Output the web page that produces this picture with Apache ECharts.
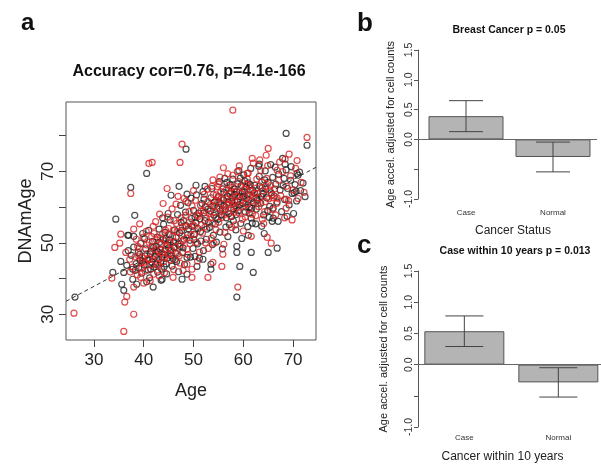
<!DOCTYPE html>
<html>
<head>
<meta charset="utf-8">
<script src="https://cdn.jsdelivr.net/npm/echarts@6/dist/echarts.min.js"></script>
<style>
  html, body { margin: 0; padding: 0; background: #fff; }
  #chart { width: 601px; height: 464px; }
</style>
</head>
<body>
<div id="chart"></div>
<script>
// panel a: DNAm age vs age, two groups of samples
const blackPoints = [
  [26.2,34.8],[34.4,56.6],[38.2,57.7],[37.4,65.5],[40.6,69.4],[36.8,52.1],[35.4,44.8],[33.8,41.7],[36,36.7],[35.6,38.4],
  [37,52.1],[38,51.8],[39.8,52.6],[36.6,43.7],[36,41.7],[37.8,42.6],[38.6,38.4],[37.8,39.8],[41.9,37.6],[43.7,39.8],
  [47.7,39.8],[48.7,41.2],[50.7,43.4],[53.5,42.6],[51.9,45.4],[53.5,44],[50.3,46.2],[48.5,76.2],[50.5,66.1],[47.1,65.8],
  [45.5,63.3],[48.7,63.6],[49.5,62.5],[52.1,62.2],[52.3,65.8],[56.7,66.9],[68.6,80.6],[72.8,77.3],[68.4,72],[63.2,72],
  [70.8,69.4],[68.2,68],[70.6,64.4],[66,59.7],[66,56.9],[66.8,48.5],[65,47.3],[64.2,52.6],[61.6,47.3],[62,41.7],
  [59.3,43.4],[58.7,34.8],[58.7,47.3],[58.7,49],[61,52.1],[65.8,56],[61.8,55.5],
  [38.5,44.2],[39.2,46.8],[39.6,41.5],[40.1,43.9],[40.4,48.3],[40.8,45.1],[41.2,40.2],[41.5,47.6],[41.8,50.4],[42.1,43.2],
  [42.3,46.1],[39.4,49.8],[38.9,47.3],[40.2,51.2],[41.0,53.5],[42.5,49.0],[42.8,41.8],[39.0,43.0],[40.6,39.1],[41.6,44.6],
  [37.5,46.5],[38.0,48.8],[36.9,47.8],
  [43.0,45.3],[43.3,48.2],[43.6,42.6],[43.9,50.9],[44.2,46.7],[44.5,44.1],[44.8,49.4],[45.1,52.3],[45.4,47.8],[45.7,43.5],
  [46.0,50.2],[43.1,53.8],[44.0,55.2],[44.6,41.3],[45.3,56.4],[45.9,45.6],[42.7,51.6],[43.5,39.5],[44.3,52.9],[45.0,48.6],
  [46.2,53.6],[46.4,47.1],[42.9,47.4],[44.9,58.2],[43.8,57.0],
  [46.6,44.8],[46.9,49.6],[47.2,52.8],[47.5,55.7],[47.8,47.3],[48.1,51.0],[48.4,58.6],[48.7,45.9],[49.0,53.9],[49.3,50.7],
  [49.6,56.8],[49.9,48.4],[46.8,57.9],[47.4,60.5],[48.2,43.9],[48.9,61.2],[49.4,46.0],[50.0,59.1],[47.0,41.9],[48.5,54.8],
  [50.2,52.4],[50.5,55.6],[50.8,49.7],[51.1,58.3],[51.4,53.1],[51.7,61.0],[52.0,47.8],[52.3,56.2],[52.6,51.0],[52.9,59.4],
  [53.2,54.3],[53.5,62.6],[53.8,49.5],[54.1,57.7],[50.6,63.4],[51.2,45.7],[51.9,64.3],[52.7,53.8],[53.4,58.9],[54.0,52.1],
  [50.3,57.2],[52.4,60.1],[53.7,65.2],[51.5,50.5],[54.2,61.4],
  [54.4,55.3],[54.7,59.6],[55.0,62.9],[55.3,53.0],[55.6,57.8],[55.9,65.1],[56.2,60.3],[56.5,54.4],[56.8,63.0],[57.1,58.2],
  [57.4,66.2],[57.7,61.6],[58.0,56.1],[54.6,50.2],[55.2,67.1],[55.8,48.3],[56.3,68.0],[56.9,51.7],[57.5,64.4],[58.1,59.4],
  [54.9,56.6],[56.0,62.0],[57.2,55.1],[57.9,67.8],[55.5,60.9],[56.6,57.0],[57.8,62.7],
  [58.3,63.5],[58.6,57.9],[58.9,66.5],[59.2,60.7],[59.5,55.4],[59.8,64.1],[60.1,69.0],[60.4,58.6],[60.7,62.4],[61.0,66.8],
  [61.3,60.0],[61.6,56.9],[61.9,64.7],[58.5,53.6],[59.1,70.2],[59.7,51.2],[60.3,67.3],[60.9,54.5],[61.5,70.8],[62.0,61.3],
  [58.8,61.5],[59.4,68.1],[60.0,63.0],[60.6,65.6],[61.2,58.3],[58.2,65.0],
  [62.3,66.1],[62.6,59.4],[62.9,63.8],[63.2,68.6],[63.5,61.1],[63.8,65.4],[64.1,57.8],[64.4,70.1],[64.7,62.6],[65.0,66.9],
  [65.3,60.2],[65.6,64.0],[65.9,68.3],[62.5,55.3],[63.1,71.4],[63.7,54.6],[64.3,67.6],[64.9,59.0],[65.5,71.9],[62.8,61.9],
  [64.0,63.7],[65.2,57.1],
  [66.2,63.1],[66.5,66.4],[66.8,61.4],[67.1,69.2],[67.4,64.8],[67.7,58.7],[68.0,66.0],[68.3,62.1],[68.6,70.4],[68.9,65.2],
  [69.2,60.6],[69.5,67.5],[69.8,63.8],[70.1,58.2],[70.4,66.3],[70.7,61.7],[71.0,68.9],[71.5,64.6],[72.0,66.7],[66.4,71.2],
  [67.0,56.0],[67.9,73.6],[68.8,57.4],[69.6,71.3],[70.2,64.0],[71.3,69.8],[72.4,62.9],
  [39.8,44.9],[40.9,42.4],[41.3,46.9],[41.9,45.5],[42.4,44.0],[42.6,47.8],[43.2,50.1],[43.7,46.0],[44.1,43.3],[44.4,48.0],
  [44.7,45.7],[45.2,50.8],[45.6,46.4],[46.1,48.7],[46.5,51.5],[47.3,49.0],[47.6,53.4],[48.0,56.2],[48.8,52.2],[49.7,54.6],
  [50.9,54.0],[51.3,56.7],[52.1,58.4],[53.0,55.7],[53.9,60.3],[54.5,57.0],[55.1,61.5],[55.4,58.9],[56.1,64.1],[56.4,59.2],
  [57.0,61.3],[57.3,63.8],[57.6,57.3],[58.4,60.4],[58.7,64.2],[59.0,59.0],[59.3,62.9],[59.6,66.0],[59.9,61.1],[60.2,64.3],
  [60.5,60.0],[60.8,63.5],[61.1,62.0],[61.4,66.3],[61.7,59.6],[62.2,64.0],[62.7,62.6],[63.3,65.9],[63.6,63.0],[64.5,65.0],
  [40.3,46.3],[41.4,42.7],[42.0,48.7],[43.4,44.5],[44.5,51.2],[38.3,42.3],[39.3,45.0],[46.3,45.3],[47.9,48.6],[50.1,50.9]
];
const redPoints = [
  [26,30.3],[36,25.2],[38,30],[36.2,33.4],[36.6,35],[33.6,40.1],[35.4,52.4],[35.2,49.9],[34.2,48.7],[38,53.8],
  [38.8,49],[37.2,45.4],[38,37.6],[36.4,47.3],[37.4,63.8],[41.05,72.2],[57.9,87.1],[47.7,77.6],[41.7,72.5],[47.3,72.5],
  [44.7,65.2],[48.5,61.6],[53.7,65.8],[55.1,66.4],[57.9,68.9],[72.8,79.5],[65,76.4],[64.6,74.5],[69.2,74.8],[68.4,73.4],
  [61.8,73.6],[60.8,69.4],[66.8,70.3],[68.6,62.2],[66.8,62.5],[68.6,59.7],[58.9,37.6],[65.6,49.9],[64.8,51.5],[61.6,51.8],
  [63.8,56.6],[45.9,40.3],[49.7,40.3],[47.9,42.3],[49.7,42.6],[53.9,44.5],[55.7,43.4],[48.7,44],[52.9,40.3],[55.9,46.8],
  [37.8,43.2],[38.3,46.1],[38.7,41.0],[39.1,48.5],[39.5,44.4],[39.9,51.5],[40.3,42.1],[40.7,47.0],[41.1,50.1],[41.5,43.8],
  [41.9,54.6],[39.2,55.3],[40.0,38.7],[40.5,53.2],[41.3,39.4],[38.5,51.0],[39.7,45.8],[40.9,45.6],[41.7,48.9],[42.0,41.2],
  [37.3,41.8],[39.4,40.3],
  [42.2,46.5],[42.6,50.8],[43.0,43.4],[43.4,47.9],[43.8,52.6],[44.2,41.6],[44.6,49.2],[45.0,54.0],[45.4,45.2],[45.8,51.7],
  [42.4,55.9],[43.2,58.0],[44.0,44.7],[44.8,57.2],[45.6,48.1],[46.0,42.5],[42.8,44.0],[43.6,49.8],[44.4,53.5],[45.2,46.8],
  [45.7,59.5],[43.9,61.0],
  [46.3,48.9],[46.7,53.1],[47.1,46.3],[47.5,57.0],[47.9,50.6],[48.3,54.5],[48.7,48.2],[49.1,58.7],[49.5,52.3],[49.9,55.1],
  [46.5,60.8],[47.3,44.3],[48.1,62.4],[48.9,46.7],[49.7,60.3],[46.1,56.2],[47.7,51.9],[49.3,49.8],[48.4,57.7],[46.9,63.0],
  [50.2,54.6],[50.6,50.1],[51.0,57.4],[51.4,60.5],[51.8,52.7],[52.2,63.6],[52.6,56.9],[53.0,48.4],[53.4,60.7],[53.8,55.4],
  [50.4,61.9],[51.2,47.4],[52.0,59.0],[52.8,65.0],[53.6,51.3],[54.0,63.5],[50.8,44.9],[51.6,55.0],[52.4,50.0],[53.2,58.1],
  [50.0,64.6],[53.9,67.6],
  [54.3,58.6],[54.7,61.8],[55.1,55.8],[55.5,64.3],[55.9,59.2],[56.3,52.9],[56.7,62.2],[57.1,66.1],[57.5,57.4],[57.9,61.0],
  [54.5,53.7],[55.3,68.4],[56.1,49.6],[56.9,69.3],[57.7,54.3],[54.8,65.7],[56.4,60.0],[57.3,63.7],[55.7,57.1],[54.1,49.9],
  [56.0,71.0],[57.6,59.5],[55.0,62.6],
  [58.2,64.3],[58.6,59.8],[59.0,67.2],[59.4,62.0],[59.8,56.6],[60.2,65.0],[60.6,60.9],[61.0,69.5],[61.4,63.4],[61.8,58.0],
  [58.4,55.0],[59.2,71.5],[60.0,53.3],[60.8,67.9],[61.6,61.7],[58.8,69.9],[60.4,57.2],[61.2,65.9],[59.6,63.8],[58.1,58.5],
  [62.0,72.3],
  [62.3,63.9],[62.7,67.8],[63.1,60.1],[63.5,70.2],[63.9,64.5],[64.3,58.7],[64.7,68.0],[65.1,62.3],[65.5,66.0],[65.9,59.3],
  [62.5,57.6],[63.3,73.2],[64.1,55.4],[64.9,71.6],[65.7,63.4],[62.9,61.0],[64.5,65.7],
  [66.3,65.1],[66.7,61.0],[67.1,67.5],[67.5,63.2],[67.9,69.9],[68.3,57.0],[68.7,65.8],[69.1,61.8],[69.5,68.7],[70.0,64.8],
  [70.5,70.8],[71.0,62.4],[71.6,66.9],[72.2,64.1],[66.5,57.8],[69.8,56.4],[70.8,73.0],[67.3,72.6],
  [39.0,46.3],[40.2,44.6],[40.6,49.4],[41.2,45.3],[41.6,51.7],[42.3,48.2],[42.9,45.8],[43.3,51.3],[43.7,47.2],[44.3,50.5],
  [44.9,47.0],[45.3,49.9],[45.9,53.4],[46.4,50.3],[46.8,46.9],[47.4,49.6],[47.8,54.4],[48.6,51.3],[49.2,55.8],[50.1,52.3],
  [50.7,57.8],[51.5,58.9],[52.3,54.4],[52.9,61.5],[53.5,57.1],[54.2,60.3],[54.6,63.4],[55.2,59.7],[55.6,62.3],[56.2,57.9],
  [56.6,64.8],[57.0,60.6],[57.4,62.0],[57.8,65.5],[58.3,61.6],[58.7,63.0],[59.1,58.4],[59.5,65.6],[59.9,60.2],[60.3,62.6],
  [60.7,66.4],[61.1,59.4],[61.5,64.4],[62.1,62.7],[62.6,65.3],[63.2,62.5],[63.7,67.0],[64.4,61.5],[65.3,64.8],[66.0,62.6],
  [43.1,40.8],[42.1,52.6],[39.6,42.9],[44.1,45.9],[46.6,55.4]
];
// fitted line: DNAmAge = intercept + slope * Age
const fitIntercept = 15.4;
const fitSlope = 0.747;
const ageRange = [24.4, 74.6];
const dnamRange = [22.8, 89.4];
const ageTicks = [30, 40, 50, 60, 70];
const dnamTicks = [30, 40, 50, 60, 70, 80];
const dnamLabels = [30, 50, 70];

// panels b and c: mean age acceleration with error bars
const bCategories = ['Case', 'Normal'];
const bMeans = [0.39, -0.295];
const bErrs = [0.26, 0.25];
const cCategories = ['Case', 'Normal'];
const cMeans = [0.535, -0.285];
const cErrs = [0.245, 0.235];
const accelTicks = [-1, -0.5, 0, 0.5, 1, 1.5];
const accelLabels = [-1, 0, 0.5, 1, 1.5];

const FONT = 'Liberation Sans, Arial, sans-serif';
const chart = echarts.init(document.getElementById('chart'), null, { renderer: 'canvas' });

function errorBar(cap) {
  return function (params, api) {
    const x = api.value(0);
    const lo = api.coord([x, api.value(1)]);
    const hi = api.coord([x, api.value(2)]);
    const style = { stroke: '#444', lineWidth: 1 };
    return {
      type: 'group',
      children: [
        { type: 'line', shape: { x1: hi[0], y1: hi[1], x2: lo[0], y2: lo[1] }, style: style },
        { type: 'line', shape: { x1: hi[0] - cap, y1: hi[1], x2: hi[0] + cap, y2: hi[1] }, style: style },
        { type: 'line', shape: { x1: lo[0] - cap, y1: lo[1], x2: lo[0] + cap, y2: lo[1] }, style: style }
      ]
    };
  };
}

function barAxes(cats, xmin, xmax, labelMargin, name, nameGap, namePad, gridIndex) {
  return {
    type: 'value', gridIndex: gridIndex, min: xmin, max: xmax,
    axisLine: { show: false }, axisTick: { show: false }, splitLine: { show: false },
    axisLabel: {
      customValues: cats.map((c, i) => i + 1),
      formatter: v => cats[Math.round(v) - 1] || '',
      fontSize: 8, color: '#333', margin: labelMargin
    },
    name: name, nameLocation: 'middle', nameGap: nameGap,
    nameTextStyle: { fontSize: 12, color: '#222', padding: namePad }
  };
}

function accelAxis(gridIndex, nameGap) {
  return {
    type: 'value', gridIndex: gridIndex, min: -1, max: 1.5,
    axisLine: { show: true, lineStyle: { color: '#555', width: 1 } },
    axisTick: { show: true, customValues: accelTicks, length: 4, lineStyle: { color: '#555' } },
    axisLabel: { customValues: accelLabels, formatter: v => v.toFixed(1), rotate: 90, fontSize: 10.5, color: '#333', margin: 3 },
    splitLine: { show: false },
    name: 'Age accel. adjusted for cell counts', nameLocation: 'middle', nameGap: nameGap, nameRotate: 90,
    nameTextStyle: { fontSize: 11, color: '#222' }
  };
}

const zeroLine = {
  silent: true, symbol: ['none', 'none'], label: { show: false },
  lineStyle: { color: '#666', width: 1, type: 'solid' },
  data: [{ yAxis: 0 }]
};

const barStyle = { color: '#b4b4b4', borderColor: '#555', borderWidth: 1 };

const option = {
  animation: false,
  backgroundColor: '#fff',
  textStyle: { fontFamily: FONT },
  title: [
    { text: 'a', left: 21, top: 11, padding: 0, textStyle: { fontSize: 24, fontWeight: 'bold', color: '#111' } },
    { text: 'Accuracy cor=0.76, p=4.1e-166', left: 189, top: 64, padding: 0, textAlign: 'center',
      textStyle: { fontSize: 16, fontWeight: 'bold', color: '#111' } },
    { text: 'b', left: 357, top: 11, padding: 0, textStyle: { fontSize: 26, fontWeight: 'bold', color: '#111' } },
    { text: 'Breast Cancer p = 0.05', left: 509, top: 25, padding: 0, textAlign: 'center',
      textStyle: { fontSize: 10.5, fontWeight: 'bold', color: '#111' } },
    { text: 'c', left: 357, top: 233, padding: 0, textStyle: { fontSize: 26, fontWeight: 'bold', color: '#111' } },
    { text: 'Case within 10 years p = 0.013', left: 515, top: 246, padding: 0, textAlign: 'center',
      textStyle: { fontSize: 10.5, fontWeight: 'bold', color: '#111' } }
  ],
  grid: [
    { left: 66, top: 102, width: 250, height: 238, show: true, borderColor: '#555', borderWidth: 1, backgroundColor: 'transparent' },
    { left: 418, top: 50, width: 179, height: 149 },
    { left: 418, top: 271, width: 183, height: 159 }
  ],
  xAxis: [
    {
      type: 'value', gridIndex: 0, min: ageRange[0], max: ageRange[1],
      axisLine: { show: false }, splitLine: { show: false },
      axisTick: { show: true, customValues: ageTicks, length: 7, lineStyle: { color: '#444' } },
      axisLabel: { customValues: ageTicks, fontSize: 17, color: '#222', margin: 12 },
      name: 'Age', nameLocation: 'middle', nameGap: 42,
      nameTextStyle: { fontSize: 18, color: '#222' }
    },
    barAxes(bCategories, 0.448, 2.506, 10, 'Cancer Status', 26, [0, 0, 0, 11], 1),
    barAxes(cCategories, 0.507, 2.454, 7, 'Cancer within 10 years', 24, [0, 14, 0, 0], 2)
  ],
  yAxis: [
    {
      type: 'value', gridIndex: 0, min: dnamRange[0], max: dnamRange[1],
      axisLine: { show: false }, splitLine: { show: false },
      axisTick: { show: true, customValues: dnamTicks, length: 7, lineStyle: { color: '#444' } },
      axisLabel: { customValues: dnamLabels, rotate: 90, fontSize: 17, color: '#222', margin: 9 },
      name: 'DNAmAge', nameLocation: 'middle', nameGap: 31, nameRotate: 90,
      nameTextStyle: { fontSize: 18, color: '#222' }
    },
    accelAxis(1, 22),
    accelAxis(2, 29)
  ],
  series: [
    {
      type: 'scatter', xAxisIndex: 0, yAxisIndex: 0, data: blackPoints, symbol: 'circle', symbolSize: 6,
      itemStyle: { color: 'rgba(0,0,0,0)', borderColor: '#222', borderWidth: 1.2 }, silent: true
    },
    {
      type: 'scatter', xAxisIndex: 0, yAxisIndex: 0, data: redPoints, symbol: 'circle', symbolSize: 6,
      itemStyle: { color: 'rgba(0,0,0,0)', borderColor: '#d82020', borderWidth: 1.2 }, silent: true
    },
    {
      type: 'line', xAxisIndex: 0, yAxisIndex: 0, symbol: 'none', silent: true,
      data: ageRange.map(a => [a, fitIntercept + fitSlope * a]),
      lineStyle: { color: '#333', width: 1, type: [4, 3] }, z: 3
    },
    {
      type: 'bar', xAxisIndex: 1, yAxisIndex: 1, barWidth: 75, silent: true,
      data: bMeans.map((m, i) => [i + 1, m]), itemStyle: barStyle, markLine: zeroLine
    },
    {
      type: 'custom', xAxisIndex: 1, yAxisIndex: 1, silent: true, renderItem: errorBar(17),
      data: bMeans.map((m, i) => [i + 1, m - bErrs[i], m + bErrs[i]]), encode: { x: 0, y: [1, 2] }, z: 4
    },
    {
      type: 'bar', xAxisIndex: 2, yAxisIndex: 2, barWidth: 80, silent: true,
      data: cMeans.map((m, i) => [i + 1, m]), itemStyle: barStyle, markLine: zeroLine
    },
    {
      type: 'custom', xAxisIndex: 2, yAxisIndex: 2, silent: true, renderItem: errorBar(19),
      data: cMeans.map((m, i) => [i + 1, m - cErrs[i], m + cErrs[i]]), encode: { x: 0, y: [1, 2] }, z: 4
    }
  ]
};

chart.setOption(option);
window.addEventListener('resize', chart.resize);
</script>
</body>
</html>
